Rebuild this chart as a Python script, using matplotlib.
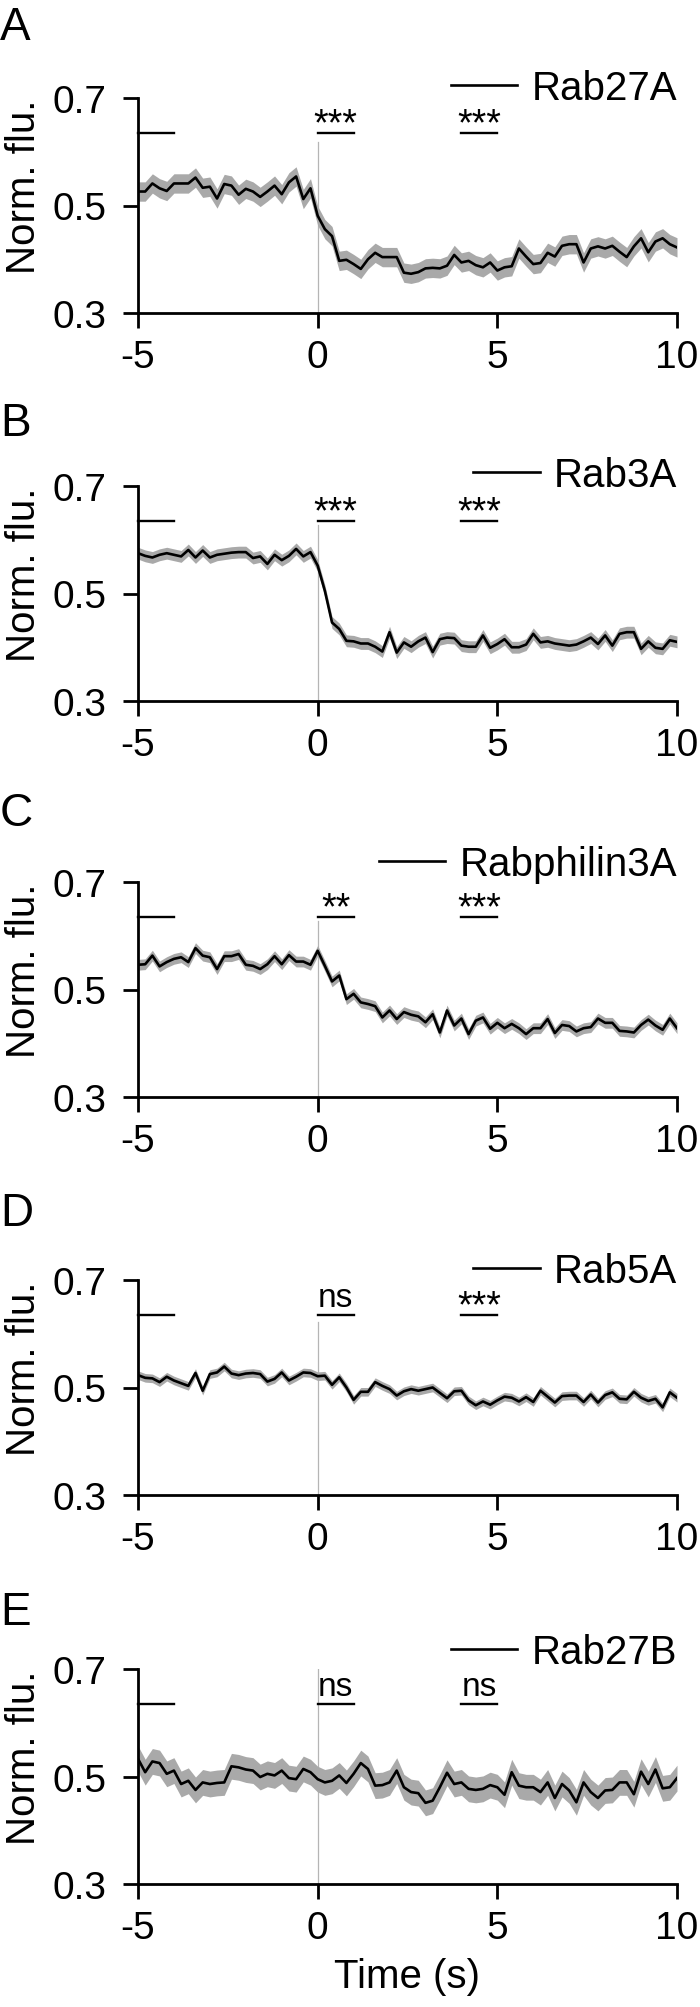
import numpy as np
import matplotlib
matplotlib.use("Agg")
from matplotlib import pyplot as plt

plt.rcParams['font.family'] = ['Liberation Sans', 'DejaVu Sans']

# time axis, 0.2 s frames from -5 to 10 s
times = np.round(np.linspace(-5, 10, 76), 1)

panel_letters = ["A", "B", "C", "D", "E"]
proteins = ["Rab27A", "Rab3A", "Rabphilin3A", "Rab5A", "Rab27B"]

rab27a = [0.526, 0.526, 0.541, 0.532, 0.527, 0.541, 0.541, 0.541, 0.552, 0.533,
          0.535, 0.513, 0.540, 0.537, 0.520, 0.531, 0.526, 0.516, 0.526, 0.537,
          0.521, 0.543, 0.554, 0.512, 0.532, 0.481, 0.456, 0.443, 0.397, 0.399,
          0.391, 0.382, 0.400, 0.412, 0.404, 0.404, 0.404, 0.375, 0.373, 0.376,
          0.383, 0.384, 0.383, 0.388, 0.408, 0.394, 0.397, 0.389, 0.385, 0.394,
          0.379, 0.385, 0.387, 0.420, 0.405, 0.391, 0.393, 0.412, 0.405, 0.425,
          0.428, 0.428, 0.394, 0.420, 0.424, 0.420, 0.425, 0.414, 0.404, 0.424,
          0.439, 0.413, 0.433, 0.439, 0.428, 0.422]
rab3a = [0.575, 0.570, 0.567, 0.572, 0.575, 0.572, 0.569, 0.581, 0.567, 0.580,
         0.567, 0.572, 0.574, 0.576, 0.577, 0.577, 0.566, 0.569, 0.555, 0.572,
         0.562, 0.570, 0.583, 0.569, 0.577, 0.552, 0.505, 0.446, 0.434, 0.412,
         0.411, 0.407, 0.407, 0.401, 0.392, 0.428, 0.390, 0.409, 0.401, 0.411,
         0.418, 0.391, 0.415, 0.418, 0.417, 0.403, 0.401, 0.401, 0.422, 0.399,
         0.406, 0.415, 0.400, 0.400, 0.405, 0.425, 0.409, 0.411, 0.407, 0.405,
         0.403, 0.405, 0.411, 0.418, 0.406, 0.422, 0.403, 0.425, 0.428, 0.428,
         0.397, 0.411, 0.399, 0.397, 0.413, 0.410]
rabphilin3a = [0.546, 0.547, 0.563, 0.543, 0.551, 0.557, 0.560, 0.551, 0.577, 0.563,
               0.560, 0.538, 0.562, 0.562, 0.566, 0.546, 0.544, 0.538, 0.547, 0.562,
               0.547, 0.564, 0.552, 0.552, 0.546, 0.572, 0.544, 0.515, 0.526, 0.482,
               0.492, 0.476, 0.473, 0.469, 0.448, 0.461, 0.445, 0.458, 0.453, 0.450,
               0.439, 0.454, 0.420, 0.461, 0.433, 0.446, 0.417, 0.442, 0.448, 0.427,
               0.438, 0.428, 0.436, 0.428, 0.417, 0.428, 0.428, 0.445, 0.419, 0.434,
               0.432, 0.422, 0.428, 0.430, 0.446, 0.438, 0.438, 0.423, 0.422, 0.420,
               0.434, 0.444, 0.433, 0.425, 0.446, 0.428]
rab5a = [0.523, 0.518, 0.517, 0.510, 0.520, 0.513, 0.508, 0.503, 0.527, 0.494,
         0.525, 0.528, 0.539, 0.526, 0.523, 0.526, 0.527, 0.525, 0.511, 0.516,
         0.528, 0.513, 0.520, 0.528, 0.527, 0.521, 0.522, 0.505, 0.519, 0.500,
         0.477, 0.492, 0.492, 0.510, 0.503, 0.497, 0.485, 0.493, 0.497, 0.494,
         0.497, 0.500, 0.490, 0.480, 0.493, 0.494, 0.476, 0.467, 0.474, 0.468,
         0.476, 0.483, 0.481, 0.474, 0.482, 0.473, 0.494, 0.483, 0.472, 0.484,
         0.485, 0.485, 0.473, 0.487, 0.472, 0.486, 0.491, 0.479, 0.478, 0.492,
         0.481, 0.475, 0.479, 0.463, 0.491, 0.481]
rab27b = [0.533, 0.508, 0.528, 0.525, 0.505, 0.511, 0.486, 0.492, 0.475, 0.489,
          0.486, 0.488, 0.489, 0.519, 0.517, 0.513, 0.511, 0.499, 0.505, 0.502,
          0.511, 0.497, 0.495, 0.514, 0.508, 0.495, 0.489, 0.492, 0.502, 0.488,
          0.505, 0.525, 0.514, 0.483, 0.484, 0.489, 0.511, 0.480, 0.471, 0.469,
          0.451, 0.455, 0.480, 0.507, 0.486, 0.489, 0.477, 0.475, 0.477, 0.484,
          0.480, 0.466, 0.508, 0.483, 0.480, 0.480, 0.471, 0.489, 0.460, 0.486,
          0.474, 0.452, 0.489, 0.471, 0.460, 0.474, 0.475, 0.489, 0.489, 0.467,
          0.509, 0.486, 0.513, 0.478, 0.480, 0.497]
means = [rab27a, rab3a, rabphilin3a, rab5a, rab27b]
sems = [0.018, 0.011, 0.010, 0.008, 0.024]

# comparison windows (s) and their significance marks
windows = [(-5, -4), (0, 1), (4, 5)]
marks = [["***", "***"], ["***", "***"], ["**", "***"], ["ns", "***"], ["ns", "ns"]]
stim_line_top = [0.619, 0.627, 0.628, 0.622, 0.705]

FIG_W, FIG_H = 700, 2008
ax_left, ax_right = 138, 677
ax_h = 215
ax_tops = [99, 487, 883, 1281, 1670]
legend_raise = [10, 11, 18, 9, 17]
letter_raise = [59, 51, 57, 55, 45]

fig = plt.figure(figsize=(FIG_W / 100, FIG_H / 100), dpi=100)

for k in range(5):
    top = ax_tops[k]
    ax = fig.add_axes([ax_left / FIG_W, 1 - (top + ax_h) / FIG_H,
                       (ax_right - ax_left) / FIG_W, ax_h / FIG_H])
    m = np.array(means[k])
    ax.fill_between(times, m - sems[k], m + sems[k], color='#a9a9a9', lw=0)
    ax.plot(times, m, color='black', lw=1.9, label=proteins[k])
    ax.plot([0, 0], [0.3, stim_line_top[k]], color='#b5b5b5', lw=0.9, zorder=0)

    bar_y = 0.635
    for j, (a, b) in enumerate(windows):
        ax.plot([a, b], [bar_y, bar_y], color='black', lw=1.7, clip_on=False)
        if j == 0:
            continue
        txt = marks[k][j - 1]
        if txt == "ns":
            ax.text((a + b) / 2, bar_y + 0.016, txt, ha='center', va='baseline', fontsize=24)
        else:
            ax.text((a + b) / 2, bar_y - 0.003, txt, ha='center', va='baseline', fontsize=27)

    ax.set_xlim(-5, 10)
    ax.set_ylim(0.3, 0.7)
    ax.set_xticks([-5, 0, 5, 10])
    ax.set_xticklabels(["-5", "0", "5", "10"])
    ax.set_yticks([0.3, 0.5, 0.7])
    ax.set_yticklabels(["0.3", "0.5", "0.7"])
    for s in ['top', 'right']:
        ax.spines[s].set_visible(False)
    for s in ['left', 'bottom']:
        ax.spines[s].set_linewidth(2.0)
    ax.tick_params(axis='both', direction='out', length=11, width=2.0, labelsize=28)
    ax.tick_params(axis='y', pad=12)
    ax.tick_params(axis='x', pad=8)

    ax.set_ylabel("Norm. flu.", fontsize=29)
    ax.yaxis.set_label_coords(-0.176, 0.59)

    ax.legend(loc='center right', bbox_to_anchor=(1.0, 1.0 + legend_raise[k] / ax_h),
              frameon=False, fontsize=29, handlelength=1.65, handletextpad=0.35,
              borderaxespad=0, borderpad=0)

    fig.text(0.0, 1 - (top - letter_raise[k]) / FIG_H, panel_letters[k], fontsize=33,
             ha='left', va='baseline')

    if k == 4:
        ax.set_xlabel("Time (s)", fontsize=29, labelpad=8)

fig.savefig("out.png", dpi=100)
